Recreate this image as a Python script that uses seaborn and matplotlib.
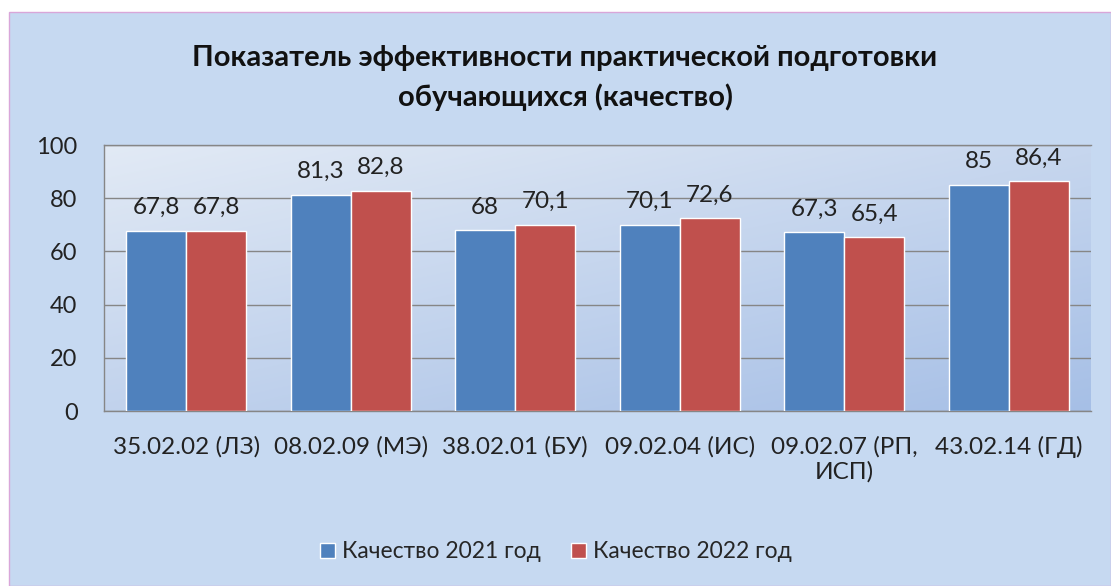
import matplotlib
matplotlib.use("Agg")
import matplotlib.pyplot as plt
import seaborn as sns
import pandas as pd
import numpy as np
from matplotlib.patches import Rectangle

categories = ["35.02.02 (ЛЗ)", "08.02.09 (МЭ)", "38.02.01 (БУ)", "09.02.04 (ИС)",
              "09.02.07 (РП,\nИСП)", "43.02.14 (ГД)"]
values_2021 = [67.8, 81.3, 68, 70.1, 67.3, 85]
values_2022 = [67.8, 82.8, 70.1, 72.6, 65.4, 86.4]
series = ["Качество 2021 год", "Качество 2022 год"]
colors = ["#4f81bd", "#c0504d"]

df = pd.DataFrame({
    "cat": categories * 2,
    "val": values_2021 + values_2022,
    "series": [series[0]] * len(categories) + [series[1]] * len(categories),
})

sns.set_theme(style="white")
plt.rcParams["font.family"] = ["Lato", "DejaVu Sans"]

fig = plt.figure(figsize=(11.11, 5.86), dpi=100)
fig.patch.set_facecolor("white")
W, H = 1111, 586

# chart area background (behind the axes)
fig.patches.append(Rectangle((9 / W, 0), 1 - 9 / W, 1 - 12 / H, transform=fig.transFigure,
                             facecolor="#c6d9f1", edgecolor="#d9a6d9", linewidth=1, zorder=-5))

ax = fig.add_axes([104 / W, 1 - 411 / H, (1091 - 104) / W, (411 - 145) / H])
ax.set_zorder(1)

# gradient plot area
grad = np.linspace(0, 1, 256)
gx, gy = np.meshgrid(grad, grad)
t = np.clip(0.55 * gy + 0.45 * gx, 0, 1)
top = np.array([0xe2, 0xea, 0xf5]) / 255
bot = np.array([0xa6, 0xbf, 0xe6]) / 255
img = top[None, None, :] * (1 - t[..., None]) + bot[None, None, :] * t[..., None]
ax.imshow(img, extent=[-0.5, 5.5, 0, 100], aspect="auto", origin="upper", zorder=0)

sns.barplot(data=df, x="cat", y="val", hue="series", palette=colors, width=0.73,
            saturation=1, ax=ax, zorder=3, legend=True)
ax.set_xlim(-0.5, 5.5)
ax.set_ylim(0, 100)
ax.set_yticks([0, 20, 40, 60, 80, 100])
ax.yaxis.grid(True, color="#868686", linewidth=1)
ax.set_axisbelow(False)
for line in ax.get_ygridlines():
    line.set_zorder(1)
for s in ax.spines.values():
    s.set_color("#868686")
    s.set_linewidth(1)
ax.spines["right"].set_visible(False)
ax.set_xlabel("")
ax.set_ylabel("")
ax.tick_params(axis="y", labelsize=17, pad=19, length=0, colors="#222222")
ax.tick_params(axis="x", labelsize=17.5, pad=18, length=0, colors="#222222")

for cont in ax.containers:
    ax.bar_label(cont, labels=[f"{v:g}".replace(".", ",") for v in cont.datavalues],
                 padding=9, fontsize=17.5, color="#222222")

leg = ax.legend(loc="center", bbox_to_anchor=(556 / W, 1 - 552 / H),
                bbox_transform=fig.transFigure, ncol=2, frameon=False, fontsize=16.5,
                handlelength=0.65, handleheight=0.65, handletextpad=0.3, columnspacing=1.3)

fig.text(565 / W, 1 - 58 / H, "Показатель эффективности практической подготовки",
         ha="center", va="center", fontsize=21, fontweight="bold", color="#111111")
fig.text(565 / W, 1 - 97 / H, "обучающихся (качество)",
         ha="center", va="center", fontsize=21, fontweight="bold", color="#111111")

fig.savefig("out.png", dpi=100, facecolor=fig.get_facecolor())
